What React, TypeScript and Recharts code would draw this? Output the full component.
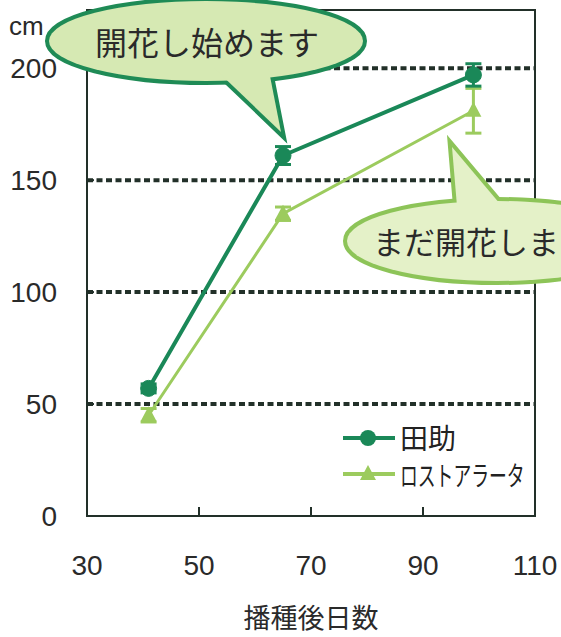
import React from 'react';
import { ComposedChart, Line, XAxis, YAxis, ErrorBar, ReferenceLine, ReferenceArea, Legend } from 'recharts';

// days after sowing
const days = [41, 65, 99];
// plant height (cm) and error
const tasukeHeight = [57, 161, 197];
const tasukeErr = [2, 4, 5];
const rostrataHeight = [45, 135, 181];
const rostrataErr = [3, 3, 10];

const xTicks = [30, 50, 70, 90, 110];
const yTicks = [0, 50, 100, 150, 200];
const gridValues = [50, 100, 150, 200];
const seriesNames = ['田助', 'ロストアラータ'];

const data = days.map((d, i) => ({
  day: d,
  tasuke: tasukeHeight[i],
  tasukeErr: tasukeErr[i],
  rostrata: rostrataHeight[i],
  rostrataErr: rostrataErr[i],
}));

const DARK = '#1a8858';
const LIGHT = '#9ccb5e';
const INK = '#223029';
const NUM_FONT = '"Liberation Sans", Arial, sans-serif';
const JP_FONT = '"Noto Sans CJK JP", "Noto Sans", sans-serif';

const TriangleDot = (props: any) => {
  const { cx, cy } = props;
  if (cx == null || cy == null) return null;
  return <path d={`M${cx},${cy - 9} L${cx + 8},${cy + 6} L${cx - 8},${cy + 6} Z`} fill={LIGHT} />;
};

/**
 * legend box drawn inside the plot, lower right
 */
const LegendBox = () => (
  <svg width={215} height={84}>
    <line x1={3} y1={20} x2={55} y2={20} stroke={DARK} strokeWidth={4} />
    <circle cx={28} cy={20} r={8} fill={DARK} />
    <text x={60} y={31} fontSize={28} fontFamily={JP_FONT} fill="#222">{seriesNames[0]}</text>
    <line x1={3} y1={56} x2={55} y2={56} stroke={LIGHT} strokeWidth={4} />
    <path d="M28,47 L36,62 L20,62 Z" fill={LIGHT} />
    {/* condensed label */}
    <text transform="translate(60,68) scale(0.66,1)" fontSize={27} fontFamily={JP_FONT} fill="#222">
      {seriesNames[1]}
    </text>
  </svg>
);

// speech bubbles drawn over the chart
const Bubbles = () => (
  <svg width={561} height={637} style={{ position: 'absolute', left: 0, top: 0, pointerEvents: 'none', overflow: 'hidden' }}>
    <text x={9} y={35} fontSize={26} fontFamily={NUM_FONT} fill="#2a2a2a">cm</text>

    <g>
      <ellipse cx={206} cy={41} rx={157} ry={40} fill="#d6e9b3" stroke="#1f8b56" strokeWidth={8} />
      <polygon points="212,66 281,132 268,66" fill="#d6e9b3" stroke="#1f8b56" strokeWidth={8} strokeLinejoin="miter" />
      <ellipse cx={206} cy={41} rx={157} ry={40} fill="#d6e9b3" />
      <polygon points="212,66 281,132 268,66" fill="#d6e9b3" />
      <text x={95} y={55} fontSize={32} fontFamily={JP_FONT} fill="#2a2a2a">開花し始めます</text>
    </g>

    <g>
      <ellipse cx={497} cy={241} rx={150} ry={40} fill="#e4f1c8" stroke="#8dc458" strokeWidth={8} />
      <polygon points="458,218 452,147 512,218" fill="#e4f1c8" stroke="#8dc458" strokeWidth={8} />
      <ellipse cx={497} cy={241} rx={150} ry={40} fill="#e4f1c8" />
      <polygon points="458,218 452,147 512,218" fill="#e4f1c8" />
      <text x={373} y={254} fontSize={31} fontFamily={JP_FONT} fill="#2a2a2a">まだ開花しま</text>
    </g>
  </svg>
);

const App: React.FC = () => {
  return (
    <div style={{ position: 'absolute', left: 0, top: 0, width: 561, height: 637, background: '#fff' }}>
      <ComposedChart width={561} height={637} data={data} margin={{ top: 10, right: 26, bottom: 51, left: 37 }}>
        <XAxis
          dataKey="day"
          type="number"
          domain={[30, 110]}
          ticks={xTicks}
          allowDataOverflow
          height={70}
          axisLine={{ stroke: INK, strokeWidth: 2 }}
          tickLine={{ stroke: INK, strokeWidth: 2 }}
          tickSize={-9}
          tickMargin={48}
          tick={{ fill: '#2a2a2a', fontSize: 28, fontFamily: NUM_FONT }}
          label={{ value: '播種後日数', position: 'bottom', offset: 23, fontSize: 27, fontFamily: JP_FONT, fill: '#2a2a2a' }}
        />
        <YAxis
          type="number"
          domain={[0, 226]}
          ticks={yTicks}
          allowDataOverflow
          width={50}
          axisLine={{ stroke: INK, strokeWidth: 2 }}
          tickLine={{ stroke: INK, strokeWidth: 2 }}
          tickSize={-7}
          tickMargin={37}
          tick={{ fill: '#2a2a2a', fontSize: 28, fontFamily: NUM_FONT }}
        />
        {gridValues.map((v) => (
          <ReferenceLine key={v} y={v} stroke={INK} strokeWidth={4} strokeDasharray="6 3.5" />
        ))}
        <ReferenceArea x1={30} x2={110} y1={0} y2={226} fill="none" stroke={INK} strokeWidth={2} />
        <Line
          dataKey="rostrata"
          name={seriesNames[1]}
          stroke={LIGHT}
          strokeWidth={3}
          dot={<TriangleDot />}
          isAnimationActive={false}
        >
          <ErrorBar dataKey="rostrataErr" direction="y" width={8} stroke={LIGHT} strokeWidth={3} />
        </Line>
        <Line
          dataKey="tasuke"
          name={seriesNames[0]}
          stroke={DARK}
          strokeWidth={4}
          dot={{ r: 8, fill: DARK, stroke: DARK, strokeWidth: 1 }}
          isAnimationActive={false}
        >
          <ErrorBar dataKey="tasukeErr" direction="y" width={8} stroke={DARK} strokeWidth={3} />
        </Line>
        <Legend
          layout="horizontal"
          verticalAlign="middle"
          wrapperStyle={{ position: 'absolute', left: 340, top: 418, width: 215, height: 84 }}
          content={() => <LegendBox />}
        />
      </ComposedChart>
      <Bubbles />
    </div>
  );
};

export default App;
